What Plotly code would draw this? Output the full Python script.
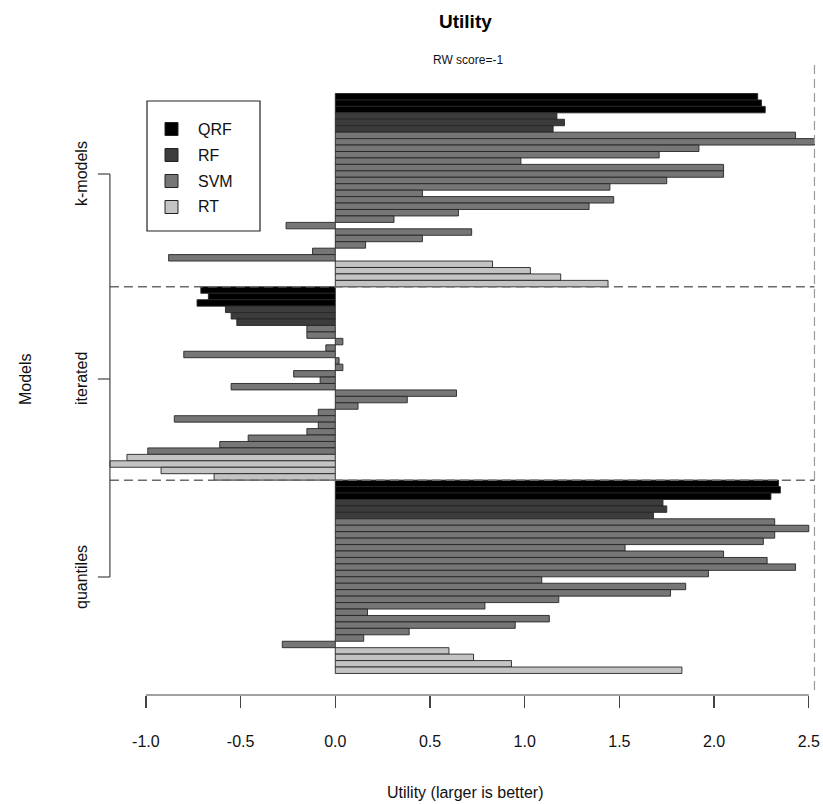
import plotly.graph_objects as go

# ---------------- data (top to bottom) ----------------
groups = ["k-models", "iterated", "quantiles"]
methods = ["QRF", "RF", "SVM", "RT"]

kmodels_qrf = [2.23, 2.25, 2.27]
kmodels_rf = [1.17, 1.21, 1.15]
kmodels_svm = [2.43, 2.53, 1.92, 1.71, 0.98, 2.05, 2.05, 1.75, 1.45, 0.46,
               1.47, 1.34, 0.65, 0.31, -0.26, 0.72, 0.46, 0.16, -0.12, -0.88]
kmodels_rt = [0.83, 1.03, 1.19, 1.44]

iterated_qrf = [-0.71, -0.67, -0.73]
iterated_rf = [-0.58, -0.55, -0.52]
iterated_svm = [-0.15, -0.15, 0.04, -0.05, -0.80, 0.02, 0.04, -0.22, -0.08, -0.55,
                0.64, 0.38, 0.12, -0.09, -0.85, -0.09, -0.15, -0.46, -0.61, -0.99]
iterated_rt = [-1.10, -1.19, -0.92, -0.64]

quantiles_qrf = [2.34, 2.35, 2.30]
quantiles_rf = [1.73, 1.75, 1.68]
quantiles_svm = [2.32, 2.50, 2.32, 2.26, 1.53, 2.05, 2.28, 2.43, 1.97, 1.09,
                 1.85, 1.77, 1.18, 0.79, 0.17, 1.13, 0.95, 0.39, 0.15, -0.28]
quantiles_rt = [0.60, 0.73, 0.93, 1.83]

x_tick_vals = [-1.0, -0.5, 0.0, 0.5, 1.0, 1.5, 2.0, 2.5]
x_tick_text = ["-1.0", "-0.5", "0.0", "0.5", "1.0", "1.5", "2.0", "2.5"]

series = {
    "k-models": {"QRF": kmodels_qrf, "RF": kmodels_rf, "SVM": kmodels_svm, "RT": kmodels_rt},
    "iterated": {"QRF": iterated_qrf, "RF": iterated_rf, "SVM": iterated_svm, "RT": iterated_rt},
    "quantiles": {"QRF": quantiles_qrf, "RF": quantiles_rf, "SVM": quantiles_svm, "RT": quantiles_rt},
}

# ---------------- styling / geometry ----------------
method_colors = {"QRF": "#000000", "RF": "#3c3c3c", "SVM": "#767676", "RT": "#c3c3c3"}
FONT = "Liberation Sans, Arial, Helvetica, sans-serif"
W, H = 823, 804
L, R, T, B = 60, 0, 65, 109
PW, PH = W - L - R, H - T - B

x_zero_px, x_unit_px = 335.3, 189.4
x_range = [(L - x_zero_px) / x_unit_px, (W - R - x_zero_px) / x_unit_px]

bar_top_px, bar_h_px = 93.5, 6.444
y_top = (T - bar_top_px) / bar_h_px - 0.5
y_bot = (H - B - bar_top_px) / bar_h_px - 0.5


def pxx(xp):
    return (xp - L) / PW


def pxy(yp):
    return (H - B - yp) / PH


# ---------------- build bars ----------------
fig = go.Figure()
pos = 0
group_starts = []
trace_data = {m: {"x": [], "y": []} for m in methods}
all_vals = []
for g in groups:
    group_starts.append(pos)
    for m in methods:
        for v in series[g][m]:
            trace_data[m]["x"].append(v)
            trace_data[m]["y"].append(pos)
            all_vals.append(v)
            pos += 1

for m in methods:
    fig.add_trace(go.Bar(
        x=trace_data[m]["x"], y=trace_data[m]["y"], orientation="h",
        width=1.0, name=m, showlegend=False,
        marker=dict(color=method_colors[m], line=dict(color="#262626", width=0.9)),
    ))

vmin, vmax = min(all_vals), max(all_vals)

shapes = []
# group separators
for s in group_starts[1:]:
    shapes.append(dict(type="line", xref="x", yref="y", x0=vmin, x1=vmax,
                       y0=s - 0.5, y1=s - 0.5,
                       line=dict(color="#6a6a6a", width=1.5, dash="9px,5px")))
# vertical dashed line at maximum
shapes.append(dict(type="line", xref="x", yref="paper", x0=vmax, x1=vmax,
                   y0=pxy(690), y1=1,
                   line=dict(color="#9a9a9a", width=1.2, dash="9px,5px")))
# x axis line from first to last tick
shapes.append(dict(type="line", xref="x", yref="paper", x0=x_tick_vals[0], x1=x_tick_vals[-1],
                   y0=0, y1=0, line=dict(color="#444444", width=1.2)))
# y axis (group axis) drawn at the minimum value
group_tick_px = [174, 379, 577]
shapes.append(dict(type="line", xref="x", yref="paper", x0=vmin, x1=vmin,
                   y0=pxy(group_tick_px[0]), y1=pxy(group_tick_px[-1]),
                   line=dict(color="#444444", width=1.2)))
for tp in group_tick_px:
    shapes.append(dict(type="line", xref="x", yref="paper", x0=vmin - 12 / x_unit_px, x1=vmin,
                       y0=pxy(tp), y1=pxy(tp), line=dict(color="#444444", width=1.2)))

# legend box (manual, R style)
shapes.append(dict(type="rect", xref="paper", yref="paper",
                   x0=pxx(147), x1=pxx(260), y0=pxy(231), y1=pxy(101),
                   line=dict(color="#222222", width=1.2), fillcolor="white"))
annotations = []
legend_y_px = [129, 155, 181, 207]
for m, ly in zip(methods, legend_y_px):
    shapes.append(dict(type="rect", xref="paper", yref="paper",
                       x0=pxx(165), x1=pxx(178), y0=pxy(ly + 6.5), y1=pxy(ly - 6.5),
                       line=dict(color="#222222", width=1), fillcolor=method_colors[m]))
    annotations.append(dict(text=m, xref="paper", yref="paper", x=pxx(196), y=pxy(ly),
                            xanchor="left", yanchor="middle", showarrow=False,
                            font=dict(family=FONT, size=16, color="#111111")))

# titles and labels
annotations.append(dict(text="<b>Utility</b>", xref="paper", yref="paper", x=pxx(465), y=pxy(21),
                        xanchor="center", yanchor="middle", showarrow=False,
                        font=dict(family=FONT, size=19, color="#000000")))
annotations.append(dict(text="RW score=-1", xref="paper", yref="paper", x=pxx(468), y=pxy(60),
                        xanchor="center", yanchor="middle", showarrow=False,
                        font=dict(family=FONT, size=12, color="#111111")))
annotations.append(dict(text="Utility (larger is better)", xref="paper", yref="paper",
                        x=pxx(465), y=pxy(793), xanchor="center", yanchor="middle",
                        showarrow=False, font=dict(family=FONT, size=16, color="#111111")))
annotations.append(dict(text="Models", xref="paper", yref="paper", x=pxx(25), y=pxy(379),
                        xanchor="center", yanchor="middle", textangle=-90, showarrow=False,
                        font=dict(family=FONT, size=16, color="#111111")))
for g, tp in zip(groups, group_tick_px):
    annotations.append(dict(text=g, xref="paper", yref="paper", x=pxx(81), y=pxy(tp),
                            xanchor="center", yanchor="middle", textangle=-90, showarrow=False,
                            font=dict(family=FONT, size=16, color="#111111")))

fig.update_layout(
    width=W, height=H,
    margin=dict(l=L, r=R, t=T, b=B, pad=0),
    paper_bgcolor="white", plot_bgcolor="white",
    barmode="overlay", bargap=0,
    shapes=shapes, annotations=annotations,
    font=dict(family=FONT, size=16, color="#111111"),
    xaxis=dict(range=x_range, showgrid=False, zeroline=False, showline=False,
               tickmode="array", tickvals=x_tick_vals, ticktext=x_tick_text,
               ticks="outside", ticklen=12, tickwidth=1.2, tickcolor="#444444",
               ticklabelstandoff=20, tickfont=dict(family=FONT, size=16, color="#111111")),
    yaxis=dict(range=[y_bot, y_top], showgrid=False, zeroline=False, showline=False,
               showticklabels=False, ticks=""),
    hovermode=False,
)

fig.write_html(
    "out.html",
    config={"displayModeBar": False, "staticPlot": True},
    post_script="document.body.style.margin='0';document.body.style.overflow='hidden';"
                "document.documentElement.style.overflow='hidden';",
)
